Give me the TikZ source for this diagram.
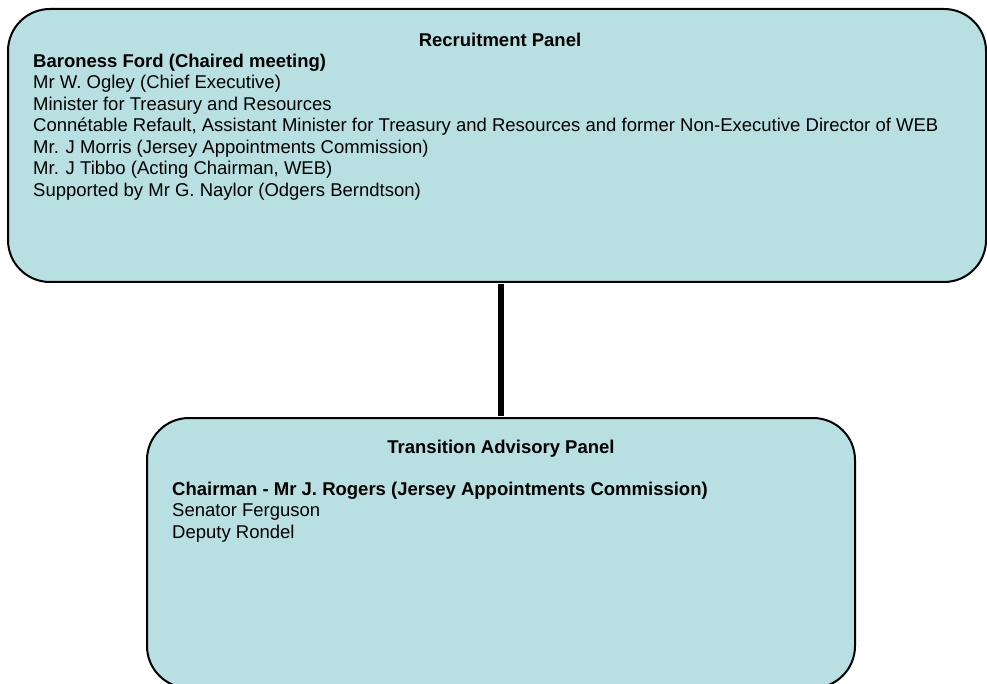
\documentclass[tikz,border=0pt]{standalone}
\usepackage{fontspec}
\setmainfont{Liberation Sans}
\usetikzlibrary{positioning}
\definecolor{panelfill}{HTML}{B8DFE1}
\tikzset{
  panel/.style={draw, line width=2pt, rounded corners=42pt, fill=panelfill, inner sep=0pt, anchor=north west},
  link/.style={line width=6pt, shorten >=1pt, shorten <=1pt}
}

\begin{document}
\begin{tikzpicture}[x=1pt, y=1pt, font=\fontsize{18.5}{21.5}\selectfont]
  \tikzset{
    head/.style={font=\fontsize{18.5}{21.5}\selectfont\bfseries, inner sep=0pt},
    names/.style={align=left, inner sep=0pt, anchor=north west}
  }
  \useasboundingbox (0,0) rectangle (987,-684);
  \clip (0,0) rectangle (987,-684);

  % the two panels
  \node[panel, minimum width=978pt, minimum height=273pt] (recruit) at (7,-8) {};
  \node[panel, minimum width=708pt, minimum height=270pt] (advisory) at (146,-417) {};

  \node[head, below=24.5pt of recruit.north, xshift=3pt] (recruithead) {Recruitment Panel};
  \node[names, below right=45.5pt and 26pt of recruit.north west] (recruitlist)
    {\textbf{Baroness Ford (Chaired meeting)}\\
     Mr W. Ogley (Chief Executive)\\
     Minister for Treasury and Resources\\
     Connétable Refault, Assistant Minister for Treasury and Resources and former Non-Executive Director of WEB\\
     Mr. J Morris (Jersey Appointments Commission)\\
     Mr. J Tibbo (Acting Chairman, WEB)\\
     Supported by Mr G. Naylor (Odgers Berndtson)};

  \node[head, below=22.5pt of advisory.north] (advisoryhead) {Transition Advisory Panel};
  \node[names, below right=64.5pt and 26pt of advisory.north west] (advisorylist)
    {\textbf{Chairman - Mr J. Rogers (Jersey Appointments Commission)}\\
     Senator Ferguson\\
     Deputy Rondel};

  \draw[link] (advisory.north) -- (advisory.north |- recruit.south);
\end{tikzpicture}
\end{document}
